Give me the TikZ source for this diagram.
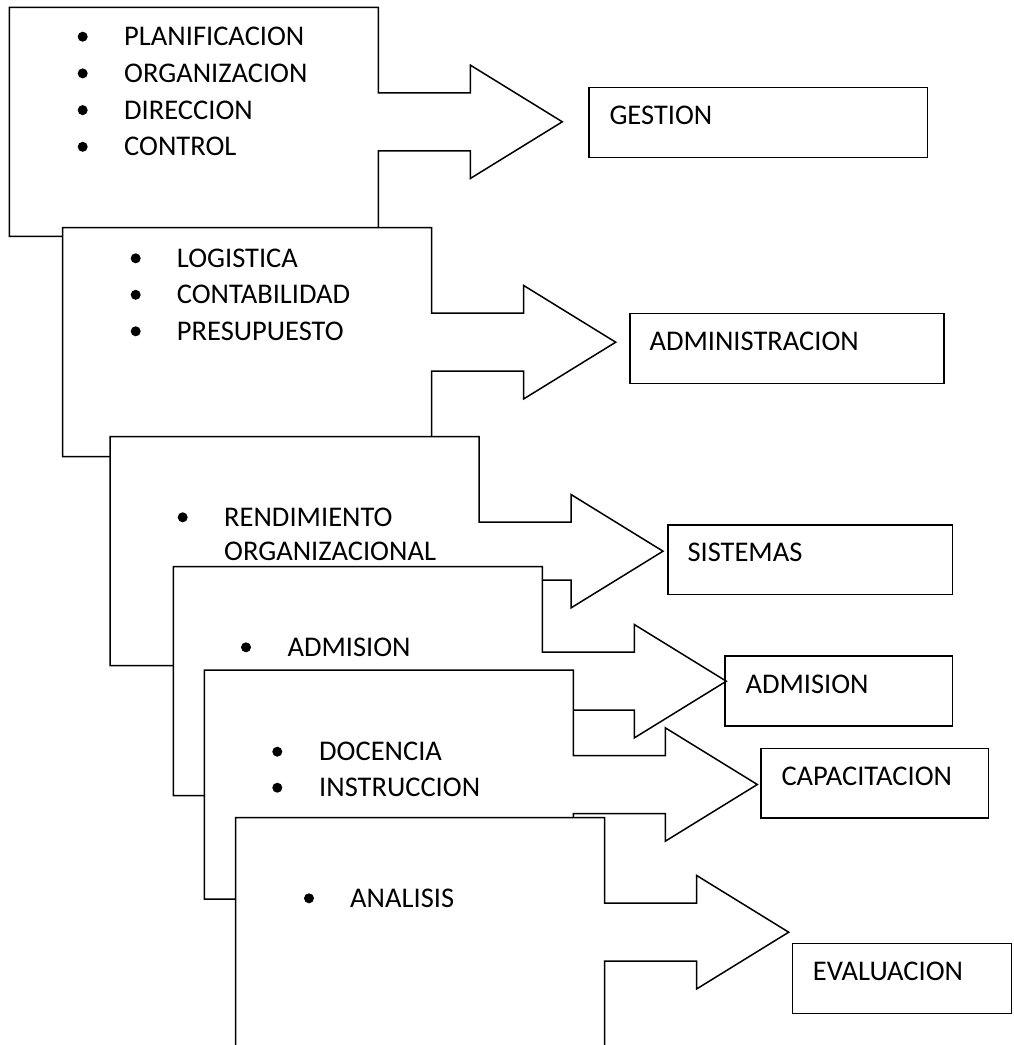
\documentclass[tikz,border=0pt]{standalone}
\usepackage{fontspec}
\setmainfont{Carlito}
\usetikzlibrary{positioning}

\newcommand{\callout}[1]{\draw[calloutbox] (0,0) -- (369,0) -- (369,85.5) -- (461,85.5) -- (461,57.8)
  -- (553,114.5) coordinate (#1) -- (461,171.2) -- (461,143.5) -- (369,143.5) -- (369,229) -- (0,229) -- cycle;}

\begin{document}
\begin{tikzpicture}[x=1pt,y=-1pt,
  calloutbox/.style={draw=black,fill=white,line width=1.5pt},
  bul/.style={circle,fill=black,inner sep=0pt,minimum size=10pt},
  item/.style={anchor=west,inner sep=0pt,font=\fontsize{28.5}{34}\selectfont},
  labelbox/.style={draw=black,line width=1.5pt,anchor=north west,minimum height=70pt,inner sep=0pt}]
\useasboundingbox (0,0) rectangle (1013,1045);
\clip (0,0) rectangle (1013,1045);

\begin{scope}[shift={(9.3,7.3)}]
\callout{tipA}
\foreach \t [count=\i] in {PLANIFICACION,ORGANIZACION,DIRECCION,CONTROL}{
  \node[bul] (bA\i) at (73.4,{29.4+36.7*(\i-1)}) {};
  \node[item] (iA\i) at (114.7,{29.4+36.7*(\i-1)}) {\t};}
\end{scope}

\begin{scope}[shift={(62.7,227.7)}]
\callout{tipB}
\foreach \t [count=\i] in {LOGISTICA,CONTABILIDAD,PRESUPUESTO}{
  \node[bul] (bB\i) at (73,{30.6+36.5*(\i-1)}) {};
  \node[item] (iB\i) at (114,{30.6+36.5*(\i-1)}) {\t};}
\end{scope}

\begin{scope}[shift={(110,436.7)}]
\callout{tipC}
\node[bul] (bC1) at (72.7,80.6) {};
\node[item] (iC1) at (114,80.6) {RENDIMIENTO};
\node[item] (iC2) at (114,115) {ORGANIZACIONAL};
\end{scope}

\begin{scope}[shift={(173.3,566.7)}]
\callout{tipD}
\node[bul] (bD1) at (72.7,80.6) {};
\node[item] (iD1) at (114,80.6) {ADMISION};
\end{scope}

\begin{scope}[shift={(204.3,670)}]
\callout{tipE}
\node[bul] (bE1) at (73,81.7) {};
\node[item] (iE1) at (114.7,81.7) {DOCENCIA};
\node[bul] (bE2) at (73,117.7) {};
\node[item] (iE2) at (114.7,117.7) {INSTRUCCION};
\end{scope}

\begin{scope}[shift={(235.7,817.7)}]
\callout{tipF}
\node[bul] (bF1) at (73.3,80.6) {};
\node[item] (iF1) at (114.3,80.6) {ANALISIS};
\end{scope}

\node[labelbox,minimum width=338.4pt] (gestion) at (588.3,86.5) {};
\node[item] (gestiont) at ([xshift=21pt,yshift=-29pt]gestion.north west) {GESTION};
\node[labelbox,minimum width=314pt] (admin) at (629.3,312.7) {};
\node[item] (admint) at ([xshift=20pt,yshift=-29pt]admin.north west) {ADMINISTRACION};
\node[labelbox,minimum width=284.4pt,minimum height=69.5pt] (sist) at (667.3,524) {};
\node[item] (sistt) at ([xshift=20pt,yshift=-28pt]sist.north west) {SISTEMAS};
\node[labelbox,minimum width=227.4pt] (admis) at (724.3,655) {};
\node[item] (admist) at ([xshift=21pt,yshift=-29pt]admis.north west) {ADMISION};
\node[labelbox,minimum width=227.4pt,minimum height=69.6pt] (capa) at (760.3,747.7) {};
\node[item] (capat) at ([xshift=21pt,yshift=-29pt]capa.north west) {CAPACITACION};
\node[labelbox,minimum width=219pt] (eval) at (791.7,942.7) {};
\node[item] (evalt) at ([xshift=21pt,yshift=-28.3pt]eval.north west) {EVALUACION};
\end{tikzpicture}
\end{document}
